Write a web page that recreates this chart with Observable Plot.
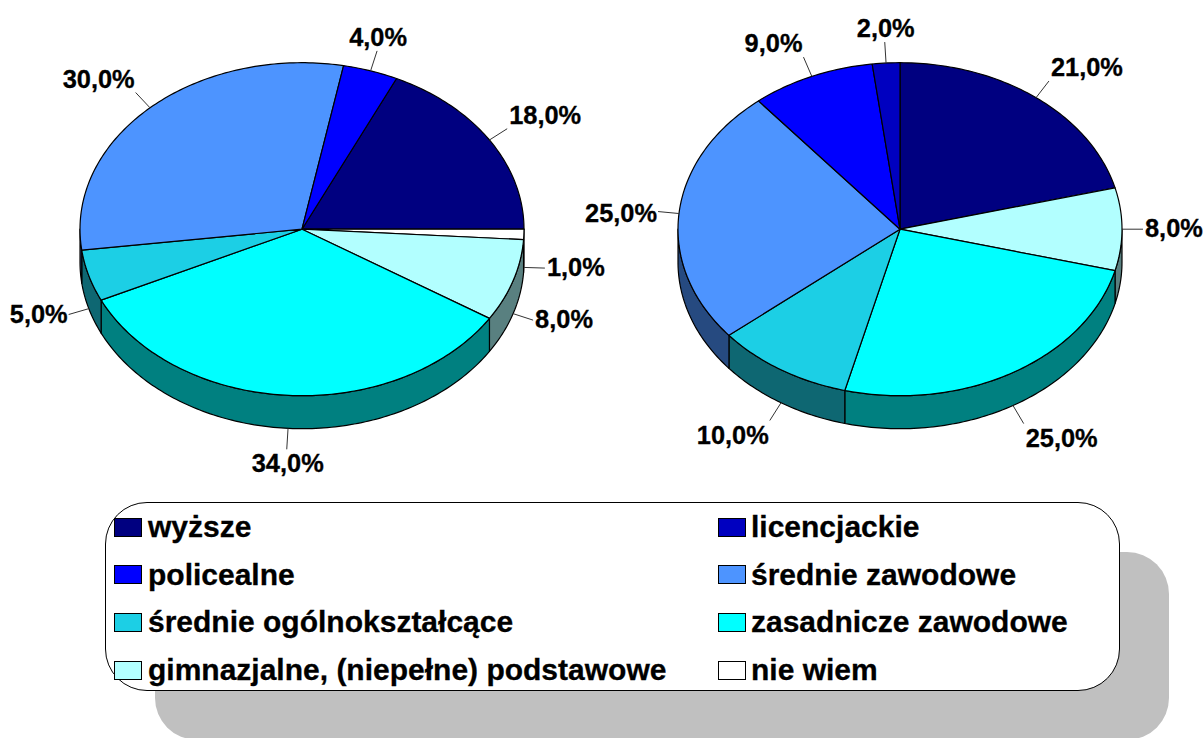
<!DOCTYPE html>
<html lang="pl">
<head>
<meta charset="utf-8">
<script src="https://cdn.jsdelivr.net/npm/d3@7"></script>
<script src="https://cdn.jsdelivr.net/npm/@observablehq/plot@0.6"></script>
<style>
html,body{margin:0;padding:0;background:#fff;width:1203px;height:738px;overflow:hidden;font-family:"Liberation Sans",Arial,sans-serif}
#legendWrap{position:absolute;left:105px;top:502px;width:1013px;height:187px;background:#fff;border:1px solid #000;border-radius:42px;box-sizing:content-box}
#shadow{position:absolute;left:155px;top:552px;width:1014px;height:188px;background:#c0c0c0;border-radius:42px}
.item{position:absolute;display:flex;align-items:center;font-weight:bold;font-size:30px;color:#000;white-space:nowrap;line-height:1;-webkit-text-stroke:0.3px #000}
.sw{width:26px;height:17px;border:1px solid #000;margin-right:6px;flex:none}
</style>
</head>
<body>
<div id="chart"></div>
<div id="shadow"></div>
<div id="legendWrap"></div>
<script>
// Slices, clockwise, in the order they appear on the pies
const categories = ["wyższe","nie wiem","gimnazjalne, (niepełne) podstawowe","zasadnicze zawodowe","średnie ogólnokształcące","średnie zawodowe","policealne","licencjackie"];
const leftValues  = [18,1,8,34,5,30,4,0];
const rightValues = [21,0,8,25,10,25,9,2];
const topColors   = ["#000080","#ffffff","#b2ffff","#00ffff","#1ccfe5","#4d94ff","#0000ff","#0000c0"];
const sideColors  = ["#000040","#808080","#598080","#008080","#0e6772","#264a80","#000080","#000060"];
const legendOrder = ["wyższe","licencjackie","policealne","średnie zawodowe","średnie ogólnokształcące","zasadnicze zawodowe","gimnazjalne, (niepełne) podstawowe","nie wiem"];

// Pie geometry
const pies = [
  {values:leftValues,  cx:301.5, start:25.2},
  {values:rightValues, cx:899.5, start:0}
];
const cy = 228.7, rx = 222, ry = 166.5, depth = 33, leader = 21;
const rad = d => d * Math.PI / 180;
const px = (p,a,r=rx) => p.cx + r*Math.sin(rad(a));
const py = (a,r=ry) => cy - r*Math.cos(rad(a));
function arc(a0,a1){ const out=[]; for(let a=a0;a<a1;a+=1) out.push(a); out.push(a1); return out; }

const tops=[], walls=[], leaders=[], labels=[];
pies.forEach((p,pi)=>{
  let a=p.start;
  p.values.forEach((v,i)=>{
    if(!v) return;
    const a0=a, a1=a+v*3.6; a=a1;
    const id=pi+"-"+i;
    tops.push({id,x:p.cx,y:cy,c:topColors[i]});
    arc(a0,a1).forEach(t=>tops.push({id,x:px(p,t),y:py(t),c:topColors[i]}));
    for(const shift of [0,360]){
      const w0=Math.max(a0,90+shift), w1=Math.min(a1,270+shift);
      if(w1>w0){
        const wid=id+"-"+shift, ar=arc(w0,w1);
        ar.forEach(t=>walls.push({id:wid,x:px(p,t),y:py(t),c:sideColors[i]}));
        ar.slice().reverse().forEach(t=>walls.push({id:wid,x:px(p,t),y:py(t)+depth,c:sideColors[i]}));
      }
    }
    const m=(a0+a1)/2, s=Math.sin(rad(m)), c=Math.cos(rad(m));
    const drop=c<-0.001?depth:0;
    const x1=px(p,m), y1=py(m)+drop, x2=x1+leader*s, y2=y1-leader*c;
    leaders.push({x1,y1,x2,y2});
    labels.push({
      text:v.toFixed(1).replace(".",",")+"%",
      x:x2+(s>0.35?2:s<-0.35?-1:1),
      y:y2+(c>0.35?-13:c<-0.35?15:c>0.05?2:0),
      anchor:s>0.35?"start":s<-0.35?"end":"middle"
    });
  });
});

const labelMark = anchor => Plot.text(labels.filter(d=>d.anchor===anchor),{
  x:"x",y:"y",text:"text",textAnchor:anchor,lineAnchor:"middle",
  fontSize:25.4,fontWeight:"bold",fontFamily:"Liberation Sans",fill:"#000",stroke:"#000",strokeWidth:0.3
});

const chart = Plot.plot({
  width:1203,height:500,margin:0,
  style:{background:"transparent",display:"block",overflow:"visible"},
  x:{domain:[0,1203],range:[0,1203],axis:null},
  y:{domain:[0,500],range:[0,500],axis:null},
  color:{type:"identity"},
  marks:[
    Plot.line(walls,{x:"x",y:"y",z:"id",fill:"c",stroke:"#000",strokeWidth:1.2,curve:"linear-closed"}),
    Plot.line(tops,{x:"x",y:"y",z:"id",fill:"c",stroke:"#000",strokeWidth:1.2,curve:"linear-closed"}),
    Plot.link(leaders,{x1:"x1",y1:"y1",x2:"x2",y2:"y2",stroke:"#333",strokeWidth:1}),
    labelMark("start"),labelMark("middle"),labelMark("end")
  ]
});
document.getElementById("chart").appendChild(chart);

// Legend, added below the plot
const wrap=document.getElementById("legendWrap");
legendOrder.forEach((name,i)=>{
  const el=document.createElement("div");
  el.className="item";
  el.style.left=(i%2?612:8)+"px";
  el.style.top=(9+Math.floor(i/2)*47.7)+"px";
  el.style.height="30px";
  const sw=document.createElement("span");
  sw.className="sw";
  sw.style.background=topColors[categories.indexOf(name)];
  sw.style.webkitTextStroke="0";
  const tx=document.createElement("span");
  tx.textContent=name;
  if(i%2) tx.style.marginLeft="-1px";
  el.append(sw,tx);
  wrap.appendChild(el);
});
</script>
</body>
</html>
